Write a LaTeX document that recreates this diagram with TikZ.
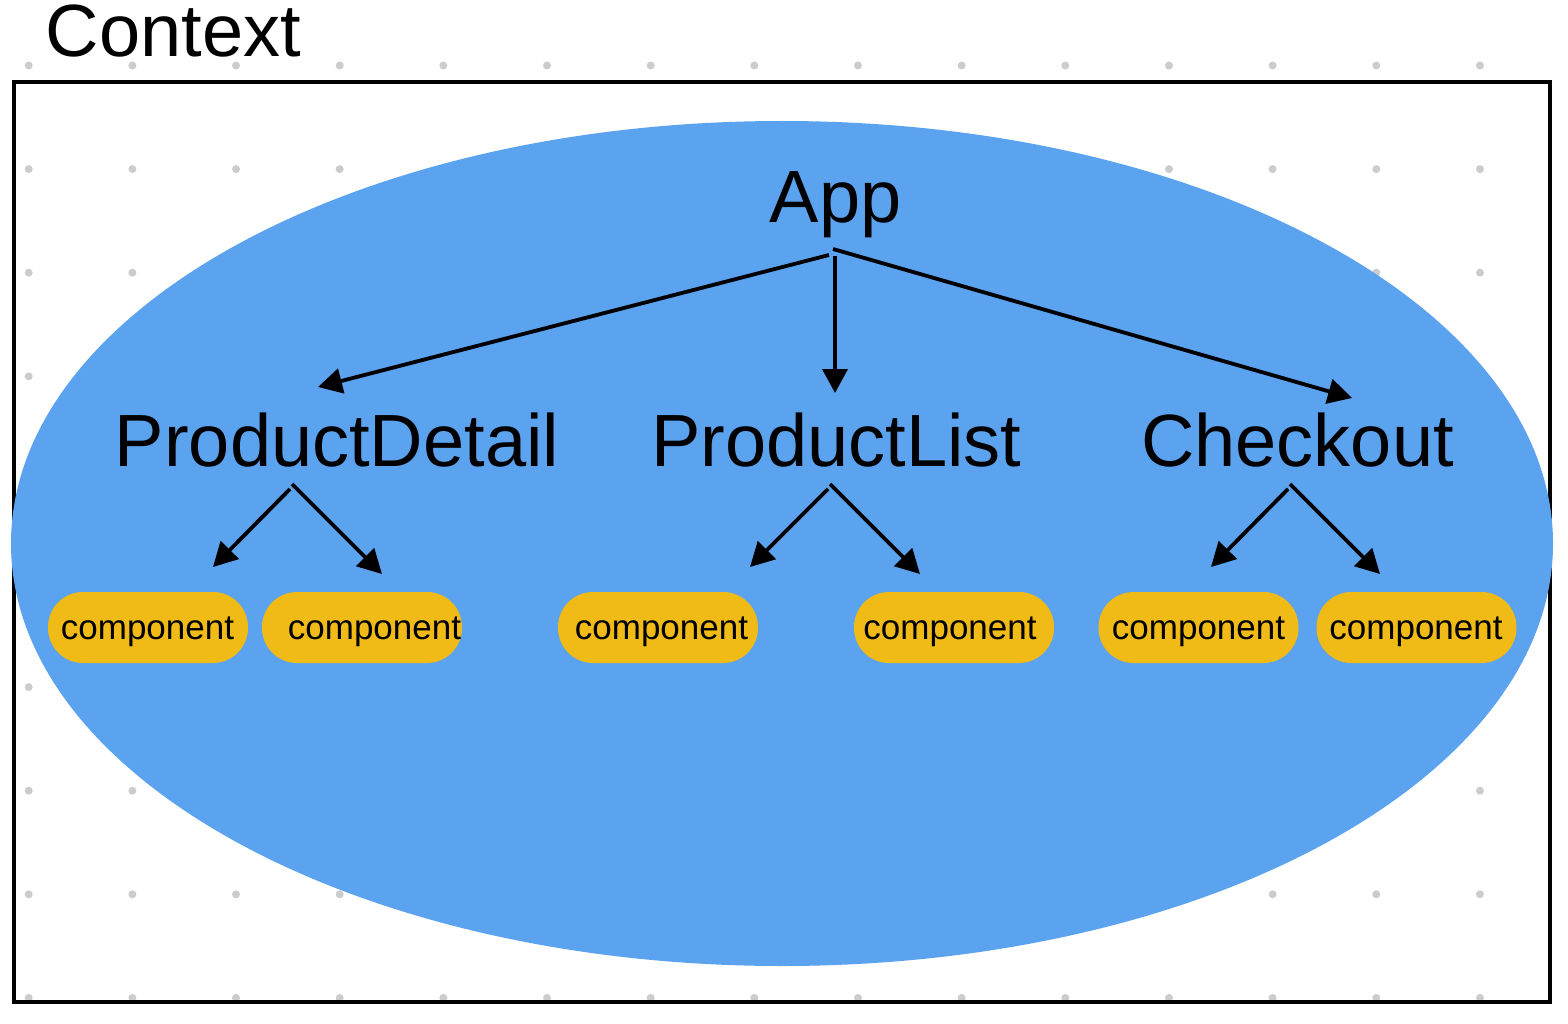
\documentclass[tikz,border=0pt]{standalone}
\usepackage{fontspec}
\setmainfont{Liberation Sans}
\usetikzlibrary{arrows.meta}
\definecolor{ellblue}{HTML}{5BA2EF}
\definecolor{pillyellow}{HTML}{F0BB16}
\definecolor{dotgray}{HTML}{CCCCCC}
\begin{document}
\begin{tikzpicture}[x=1pt,y=-1pt,
  big/.style={font=\fontsize{74}{80}\selectfont, inner sep=0pt, anchor=base},
  pill/.style={fill=pillyellow, rounded corners=35pt, minimum width=200pt, minimum height=71pt, inner sep=0pt},
  ctext/.style={font=\fontsize{35}{40}\selectfont, inner sep=0pt, anchor=base},
  link/.style={line width=3.8pt, -{Triangle[length=24pt,width=25pt]}}]
\useasboundingbox (0,0) rectangle (1568,1024);
% dotted grid
\foreach \i in {0,...,14} {
  \foreach \j in {0,...,9} {
    \fill[dotgray] (28.7+103.66*\i, 65.5+103.6*\j) circle[radius=4pt];
  }
}
% frame
\draw[line width=4pt] (14,82) rectangle (1550,1002);
% context ellipse
\fill[ellblue] (782,543.5) ellipse[x radius=771pt, y radius=422.5pt];
% labels
\node[big] (ctx) at (173.5,57) {Context};
\node[big] (app) at (835.5,223) {App};
\node[big] (pd) at (337,466) {ProductDetail};
\node[big] (pl) at (836.5,466) {ProductList};
\node[big] (co) at (1297.5,466) {Checkout};
% components
\node[pill] (c1) at (148,627.5) {};
\node[pill] (c2) at (362,627.5) {};
\node[pill] (c3) at (658,627.5) {};
\node[pill] (c4) at (954,627.5) {};
\node[pill] (c5) at (1198.5,627.5) {};
\node[pill] (c6) at (1416.5,627.5) {};
\node[ctext] (t1) at (147.5,639) {component};
\node[ctext] (t2) at (374.5,639) {component};
\node[ctext] (t3) at (661.5,639) {component};
\node[ctext] (t4) at (950,639) {component};
\node[ctext] (t5) at (1198.5,639) {component};
\node[ctext] (t6) at (1416,639) {component};
% connector ends
\coordinate (appL) at (829,255);
\coordinate (appM) at (835,256);
\coordinate (appR) at (833,249);
\coordinate (pdIn) at (318,387);
\coordinate (plIn) at (835,393);
\coordinate (coIn) at (1352,398);
\coordinate (pdL) at (290,489);
\coordinate (pdR) at (292,484);
\coordinate (plL) at (828,489);
\coordinate (plR) at (830,484);
\coordinate (coL) at (1288,489);
\coordinate (coR) at (1290,484);
\coordinate (c1In) at (213,567);
\coordinate (c2In) at (382,574);
\coordinate (c3In) at (750,567);
\coordinate (c4In) at (920,574);
\coordinate (c5In) at (1211,567);
\coordinate (c6In) at (1380,574);
% connectors
\draw[link] (appL) -- (pdIn);
\draw[link] (appM) -- (plIn);
\draw[link] (appR) -- (coIn);
\draw[link] (pdL) -- (c1In);
\draw[link] (pdR) -- (c2In);
\draw[link] (plL) -- (c3In);
\draw[link] (plR) -- (c4In);
\draw[link] (coL) -- (c5In);
\draw[link] (coR) -- (c6In);
\end{tikzpicture}
\end{document}
